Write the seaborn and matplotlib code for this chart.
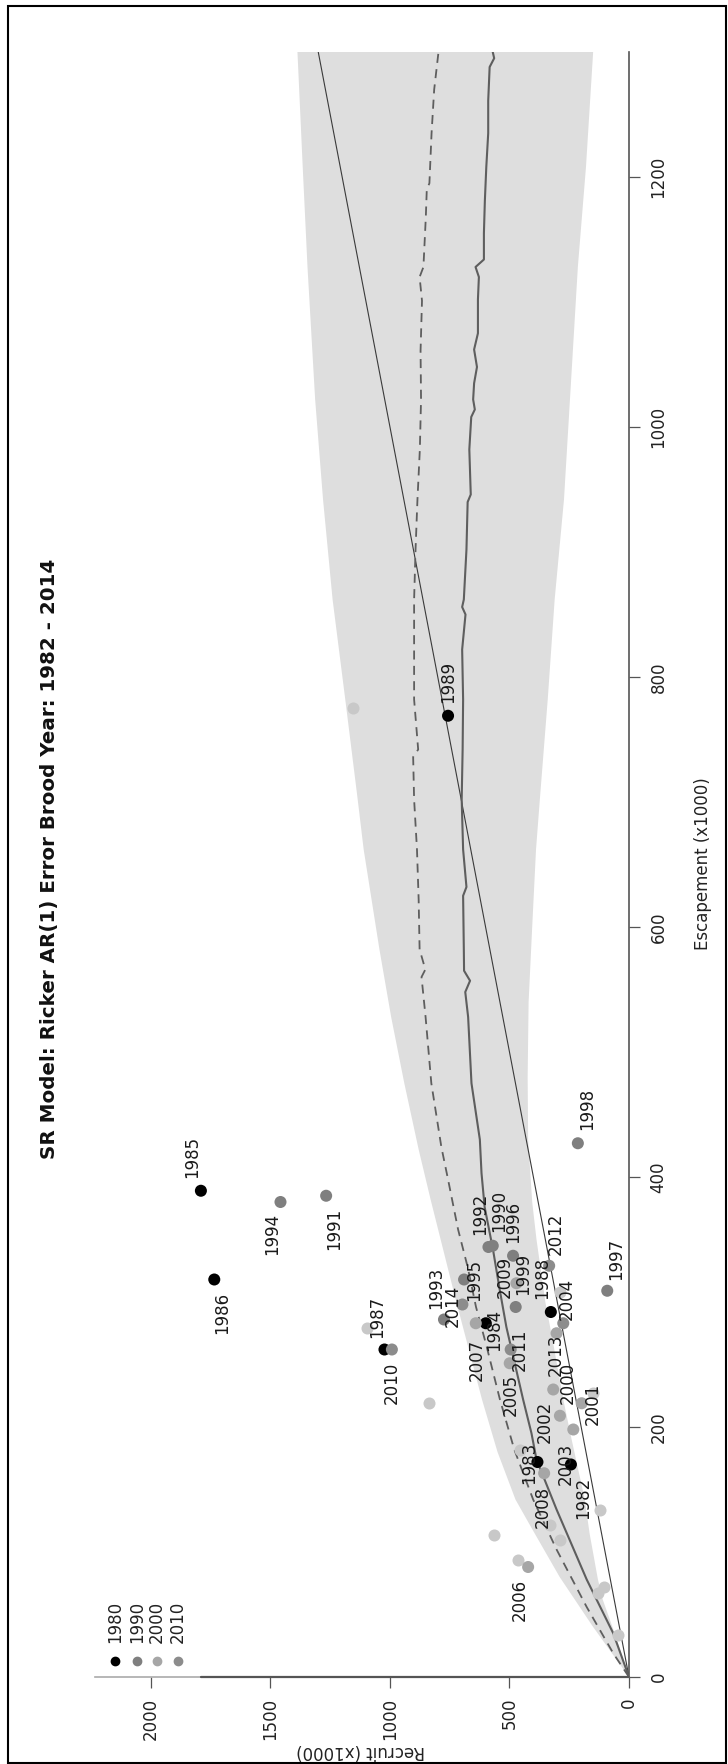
import matplotlib
matplotlib.use("Agg")
import matplotlib.pyplot as plt
from matplotlib.lines import Line2D
from matplotlib.patches import Rectangle
import seaborn as sns
import pandas as pd

# brood years and observed stock-recruit pairs (x1000)
years = [1982, 1983, 1984, 1985, 1986, 1987, 1988, 1989, 1990, 1991, 1992,
         1993, 1994, 1995, 1996, 1997, 1998, 1999, 2000, 2001, 2002, 2003,
         2004, 2005, 2006, 2007, 2008, 2009, 2010, 2011, 2012, 2013, 2014]
escapement = [170, 172, 283, 389, 318, 262, 292, 769, 345, 385, 344,
              286, 380, 318, 337, 309, 427, 296, 209, 219, 230, 198,
              275, 251, 88, 283, 163, 315, 262, 262, 329, 283, 298]
recruit = [243, 383, 599, 1791, 1735, 1023, 327, 757, 570, 1267, 588,
           774, 1458, 690, 485, 91, 214, 474, 289, 198, 317, 233,
           303, 499, 422, 641, 355, 471, 992, 495, 334, 275, 697]

# unlabeled points (not in the model years)
other_esc = [279, 219, 114, 94, 134, 122, 110, 67, 72, 34, 182, 775, 308, 227]
other_rec = [1097, 838, 565, 466, 122, 331, 289, 131, 105, 45, 457, 1155, 289, 151]

# median (solid) predicted recruits
med_esc = [0, 35, 78, 134, 174, 195, 222, 251, 280, 310, 342, 376, 403, 430, 475,
           528, 548, 557, 565, 582, 625, 632, 662, 702, 742, 782, 822, 850, 856,
           862, 902, 940, 946, 982, 1008, 1014, 1022, 1035, 1048, 1062, 1075,
           1102, 1120, 1128, 1134, 1155, 1181, 1208, 1235, 1261, 1288, 1295, 1300]
med_rec = [0, 66, 177, 303, 387, 408, 443, 478, 513, 541, 569, 604, 617, 624, 659,
           673, 685, 665, 690, 691, 694, 680, 694, 700, 696, 694, 698, 684, 698,
           691, 680, 675, 662, 668, 660, 645, 652, 648, 636, 648, 632,
           632, 628, 642, 607, 607, 603, 597, 589, 589, 583, 564, 570]
# mean (dashed) predicted recruits
mean_esc = [0, 19, 56, 102, 142, 182, 222, 264, 296, 328, 358, 398, 424, 475, 528,
            560, 566, 582, 622, 662, 702, 736, 742, 782, 822, 862, 902, 942, 982,
            1022, 1061, 1101, 1120, 1128, 1168, 1190, 1195, 1235, 1270, 1300]
mean_rec = [0, 66, 177, 303, 401, 480, 540, 595, 640, 675, 715, 757, 785, 827, 851,
            868, 852, 876, 880, 887, 899, 903, 882, 899, 899, 899, 893, 885, 875,
            870, 872, 866, 876, 860, 850, 846, 835, 826, 815, 797]

# prediction band edges
hi_esc = [0, 40, 80, 120, 142, 180, 222, 302, 382, 422, 475, 528, 582, 662, 702,
          782, 862, 942, 1022, 1128, 1208, 1300]
hi_rec = [0, 150, 290, 410, 475, 550, 615, 725, 830, 880, 940, 995, 1044, 1110,
          1135, 1187, 1240, 1280, 1313, 1345, 1365, 1387]
lo_esc = [0, 35, 62, 78, 115, 142, 190, 222, 270, 300, 350, 380, 430, 480, 540,
          600, 662, 702, 782, 862, 942, 1022, 1128, 1208, 1300]
lo_rec = [0, 60, 110, 130, 165, 185, 240, 275, 320, 350, 387, 405, 422, 424, 420,
          405, 389, 373, 340, 311, 272, 247, 214, 180, 150]

decades = [1980, 1990, 2000, 2010]
decade_colors = ["#000000", "#7f7f7f", "#a6a6a6", "#8c8c8c"]
other_color = "#c8c8c8"

# label offsets in pixels (right, down) from each point
label_off = {
    1982: (12, 33), 1983: (-8, 1), 1984: (8, 7), 1985: (-9, -34), 1986: (8, 33),
    1987: (-7, -33), 1988: (-9, -34), 1989: (0, -34), 1990: (6, -35), 1991: (8, 33),
    1992: (-8, -33), 1993: (-8, -32), 1994: (-8, 32), 1995: (10, 0), 1996: (0, -34),
    1997: (9, -32), 1998: (9, -34), 1999: (7, -33), 2000: (8, -33), 2001: (11, 1),
    2002: (-8, 32), 2003: (-8, 34), 2004: (10, -34), 2005: (1, 32), 2006: (-8, 33),
    2007: (1, 37), 2008: (-1, 34), 2009: (-12, -6), 2010: (0, 33), 2011: (9, 0),
    2012: (7, -32), 2013: (-8, 32), 2014: (-10, 1),
}

sns.set_theme(style="white")
plt.rcParams["font.family"] = ["DejaVu Sans"]

W, H = 728, 1764
fig = plt.figure(figsize=(W / 100, H / 100), dpi=100)


def fx(x):
    return x / W


def fy(y):
    return 1 - y / H


ax = fig.add_axes([fx(95), fy(1677), fx(629) - fx(95), fy(52) - fy(1677)])
ax.set_xlim(2234, 0)
ax.set_ylim(0, 1300)

# prediction band
ax.fill(hi_rec + lo_rec[::-1], hi_esc + lo_esc[::-1], color="#dedede", lw=0, zorder=1)

# replacement line
ax.plot([0, 1300], [0, 1300], color="#3a3a3a", lw=0.8, zorder=2)

curves = pd.DataFrame({"esc": med_esc, "rec": med_rec})
sns.lineplot(data=curves, x="rec", y="esc", sort=False, estimator=None,
             color="#5e5e5e", lw=1.5, ax=ax, zorder=3)
curves_m = pd.DataFrame({"esc": mean_esc, "rec": mean_rec})
sns.lineplot(data=curves_m, x="rec", y="esc", sort=False, estimator=None,
             color="#5e5e5e", lw=1.3, ax=ax, zorder=3,
             linestyle=(0, (5, 3.5)))

# points
sns.scatterplot(x=other_rec, y=other_esc, color=other_color, s=75, linewidth=0,
                ax=ax, zorder=4)
df = pd.DataFrame({"year": years, "esc": escapement, "rec": recruit})
df["decade"] = df["year"] // 10 * 10
sns.scatterplot(data=df, x="rec", y="esc", hue="decade", hue_order=decades,
                palette=dict(zip(decades, decade_colors)), s=75, linewidth=0,
                legend=False, ax=ax, zorder=5)

for yr, r, e in zip(years, recruit, escapement):
    dx, dy = label_off[yr]
    ax.annotate(str(yr), (r, e), xytext=(dx, -dy), textcoords="offset pixels",
                rotation=90, ha="center", va="center", fontsize=12,
                color="#1a1a1a", zorder=6)

# axes styling
ax.set_xlabel("")
ax.set_ylabel("")
for side in ["top", "left"]:
    ax.spines[side].set_visible(False)
ax.spines["right"].set_color("#555555")
ax.spines["right"].set_linewidth(1.2)
ax.spines["bottom"].set_color("#aaaaaa")
ax.spines["bottom"].set_linewidth(1.2)
ax.plot([0, max(recruit)], [0, 0], color="#555555", lw=1.6, clip_on=False, zorder=7)

ax.yaxis.tick_right()
ax.set_yticks(range(0, 1201, 200))
ax.set_xticks(range(0, 2001, 500))
ax.tick_params(axis="y", right=True, left=False, length=7.7, width=0.9,
               color="#555555", pad=7, labelsize=12, labelcolor="#222222")
ax.tick_params(axis="x", bottom=True, length=8, width=0.9, color="#555555",
               pad=7, labelsize=12, labelcolor="#222222")
for lab in ax.get_yticklabels():
    lab.set_rotation(90)
    lab.set_va("center")
    lab.set_ha("left")
for lab in ax.get_xticklabels():
    lab.set_rotation(90)
    lab.set_va("top")
    lab.set_ha("center")

fig.text(fx(703), fy(864), "Escapement (x1000)", rotation=90, ha="center",
         va="center", fontsize=12, color="#222222")
fig.text(fx(361), fy(1751), "Recruit (x1000)", rotation=180, ha="center",
         va="center", fontsize=12, color="#222222")
fig.text(fx(50), fy(859), "SR Model: Ricker AR(1) Error Brood Year: 1982 - 2014",
         rotation=90, ha="center", va="center", fontsize=14.3, fontweight="bold",
         color="#111111")

# legend by decade
leg_x = [115, 137, 157, 178]
for x, dec, col in zip(leg_x, decades, decade_colors):
    fig.add_artist(Line2D([fx(x)], [fy(1661)], marker="o", markersize=6,
                          color=col, lw=0, transform=fig.transFigure))
    fig.text(fx(x), fy(1622), str(dec), rotation=90, ha="center", va="center",
             fontsize=12, color="#222222")

fig.patches.append(Rectangle((fx(8), fy(1763)), fx(726) - fx(8), fy(6) - fy(1763),
                             transform=fig.transFigure, fill=False,
                             edgecolor="black", lw=1.5))

fig.savefig("out.png", dpi=100)
